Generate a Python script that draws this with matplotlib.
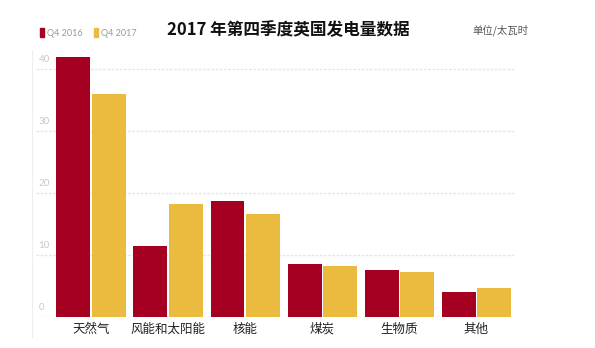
import numpy as np
import matplotlib.pyplot as plt
from matplotlib.patches import Rectangle
from matplotlib.lines import Line2D

plt.rcParams['font.family'] = ['Noto Sans CJK SC', 'DejaVu Sans']

categories = ['天然气', '风能和太阳能', '核能', '煤炭', '生物质', '其他']
q4_2016 = [41.9, 11.5, 18.7, 8.5, 7.6, 4.0]
q4_2017 = [36.0, 18.2, 16.6, 8.2, 7.3, 4.7]
yticks = [0, 10, 20, 30, 40]

red = '#A50021'
yellow = '#EBBB3F'

fig = plt.figure(figsize=(5.95, 3.48), dpi=100)
W, H = 595, 348
ax = fig.add_axes([36 / W, 1 - 317 / H, (515 - 36) / W, 273 / H])

x = np.arange(len(categories))
w = 0.44
ax.bar(x - w / 2 - 0.01, q4_2016, width=w, color=red, zorder=3)
ax.bar(x + w / 2 + 0.01, q4_2017, width=w, color=yellow, zorder=3)

ax.set_xlim(-0.714, 5.5)
ax.set_ylim(0, 44)
for s in ax.spines.values():
    s.set_visible(False)
ax.set_yticks([])
ax.set_xticks(x)
ax.set_xticklabels(categories, fontsize=9, color='#222222')
ax.tick_params(axis='x', length=0, pad=4)

# faint grid with labels sitting inside the plot area
ytr = ax.get_yaxis_transform()
for t in yticks:
    ax.axhline(t, color='#e6e6e6', lw=1.0, ls=(0, (2, 1)), zorder=1)
    ax.text(0.005, t + 0.8, str(t), transform=ytr, fontsize=7,
            color='#c8c8c8', ha='left', va='bottom', family='Lato')

# thin frame line on the left
fig.add_artist(Line2D([32 / W, 32 / W], [1 - 337 / H, 1 - 50 / H],
                      color='#eeeeee', lw=0.8))

fig.text(288 / W, 1 - 30 / H, '2017 年第四季度英国发电量数据', fontsize=12,
         fontweight='bold', ha='center', va='center', color='#111111')
fig.text(500 / W, 1 - 30 / H, '单位/太瓦时', fontsize=7.5,
         ha='center', va='center', color='#555555')

# legend
for px, col, lab in [(40, red, 'Q4 2016'), (94, yellow, 'Q4 2017')]:
    fig.add_artist(Rectangle((px / W, 1 - 37 / H), 4 / W, 9 / H,
                             color=col, transform=fig.transFigure))
    fig.text((px + 7) / W, 1 - 33 / H, lab, fontsize=6.5, color='#999999',
             ha='left', va='center', family='Lato')

fig.savefig('out.png', dpi=100, facecolor='white')
